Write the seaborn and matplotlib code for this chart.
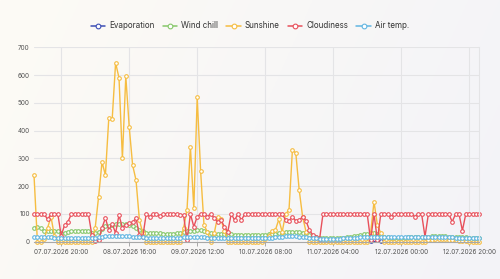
import numpy as np
import pandas as pd
import seaborn as sns
import matplotlib.pyplot as plt

sns.set_theme(style="white")
plt.rcParams['font.family'] = ['Inter', 'DejaVu Sans']

# hourly readings, 07.07.2026 12:00 -> 12.07.2026 23:00
start = '2026-07-07 12:00'
n_hours = 132
nan = np.nan

# evaporation was only reported twice (11.07 around 11:00-14:00)
evaporation = [
    nan, nan, nan, nan, nan, nan, nan, nan, nan, nan, nan, nan, nan, nan, nan, nan, nan, nan, nan, nan, nan, nan,
    nan, nan, nan, nan, nan, nan, nan, nan, nan, nan, nan, nan, nan, nan, nan, nan, nan, nan, nan, nan, nan, nan,
    nan, nan, nan, nan, nan, nan, nan, nan, nan, nan, nan, nan, nan, nan, nan, nan, nan, nan, nan, nan, nan, nan,
    nan, nan, nan, nan, nan, nan, nan, nan, nan, nan, nan, nan, nan, nan, nan, nan, nan, nan, nan, nan, nan, nan,
    nan, nan, nan, nan, nan, nan, nan, nan, nan, nan, nan, 3, nan, nan, 3, nan, nan, nan, nan, nan, nan, nan,
    nan, nan, nan, nan, nan, nan, nan, nan, nan, nan, nan, nan, nan, nan, nan, nan, nan, nan, nan, nan, nan, nan,
]
wind_chill = [
    50, 52, 48, 38, 37, 38, 40, 40,
    32, 30, 35, 38, 39, 40, 40, 39, 38,
    33, 30, 35, 45, 55, 58, 60, 62, 63, 63, 62, 60, 55, 50, 42, 38,
    33, 32, 31, 30, 30, 29, 28, 28, 29, 30, 32, 35,
    38, 40, 40, 42, 41, 40, 35, 30, 28, 28, 27, 27, 26, 26, 25, 25, 25, 25,
    25, 25, 24, 24, 25, 25, 26, 27, 28, 30, 32,
    34, 35, 36, 36, 35, 33, 30, 24, 20, 17, 15,
    13, 12, 12, 12, 13, 14, 15, 17, 18, 20, 22, 24, 26, 28,
    30, 30, 28, 22, 18, 16, 15,
    14, 14, 15, 15, 16, 16,
    17, 18, 18, 18,
    18, 19, 19, 20, 20, 19, 18,
    17, 17, 16, 16,
    16, 15, 15, 14, 14,
]
sunshine = [
    240, 0, 0, 10, 50, 90, 20, 0,
    0, 0, 0, 0, 0, 0, 0, 0, 0, 0,
    50, 162, 287, 240, 445, 442, 644, 590, 300, 596, 414, 276, 222, 78, 31,
    0, 0, 0, 0, 0, 0, 0, 0, 0, 0, 0,
    50, 114, 342, 120, 520, 255, 60, 35, 0, 30, 90, 80, 40,
    0, 0, 0, 0, 0, 0, 0, 0, 0, 0, 0,
    8, 20, 40, 42, 80, 35, 100, 114, 330, 319, 186, 90, 36,
    0, 0, 0, 0, 0, 0, 0, 0, 0, 0, 0, 0, 0, 0, 0, 0, 0, 0,
    30, 144, 60, 31,
    0, 0, 0, 0, 0, 0, 0, 0, 0, 0, 0, 0, 0,
    5, 6, 8, 8, 10, 8, 6, 5, 5, 4, 3, 3, 0,
    0, 0, 0,
]
cloudiness = [
    100, 100, 100, 100, 80, 100, 100, 100,
    22, 60, 72, 100, 100, 100, 100, 100, 100,
    25, 3, 5, 50, 85, 42, 64, 31, 96, 50, 60, 67, 70, 85, 24, 18,
    100, 90, 100, 100, 92, 100, 100, 100, 100, 100, 95, 95,
    5, 100, 54, 90, 100, 100, 90, 100, 85, 72, 78, 54, 36, 100, 78, 100, 78, 100,
    100, 100, 100, 100, 100, 100, 100, 100, 100, 100, 100,
    78, 75, 90, 75, 78, 90, 75, 42, 24, 18, 10,
    100, 100, 100, 100, 100, 100, 100, 100, 100, 100, 100, 100, 100, 100,
    5, 100, 5, 100, 100, 100, 90,
    100, 100, 100, 100, 100, 100,
    90, 100, 100, 18,
    100, 100, 100, 100, 100, 100, 100,
    72, 100, 100, 40,
    100, 100, 100, 100, 100,
]
air_temp = [
    18, 18, 17, 17, 16, 16, 15, 15,
    14, 14, 14, 13, 13, 13, 12, 12, 12,
    13, 14, 16, 18, 20, 21, 22, 22, 22, 21, 20, 19, 18, 17, 16, 16,
    15, 15, 14, 14, 14, 13, 13, 13, 13, 14, 15, 16,
    17, 18, 18, 17, 17, 16, 15, 15, 14, 14, 14, 13, 13, 13, 13, 13, 13, 13,
    13, 13, 13, 13, 13, 14, 14, 15, 16, 17, 18,
    19, 20, 20, 19, 18, 17, 16, 15, 13, 12, 11,
    10, 10, 10, 10, 11, 11, 12, 12, 13, 14, 15, 16, 17, 18,
    18, 17, 16, 16, 16, 16, 16,
    16, 16, 16, 17, 17, 17,
    17, 17, 16, 16,
    16, 16, 17, 17, 17, 16, 16,
    16, 15, 15, 15,
    15, 15, 14, 14, 14,
]

series_names = ['Evaporation', 'Wind chill', 'Sunshine', 'Cloudiness', 'Air temp.']
series_values = [evaporation, wind_chill, sunshine, cloudiness, air_temp]
series_colors = ['#3d4fb5', '#86c76a', '#f6bd41', '#e8505b', '#62b6e2']

tick_times = ['2026-07-07 20:00', '2026-07-08 16:00', '2026-07-09 12:00',
              '2026-07-10 08:00', '2026-07-11 04:00', '2026-07-12 00:00',
              '2026-07-12 20:00']
tick_labels = ['07.07.2026 20:00', '08.07.2026 16:00', '09.07.2026 12:00',
               '10.07.2026 08:00', '11.07.2026 04:00', '12.07.2026 00:00',
               '12.07.2026 20:00']
y_ticks = [0, 100, 200, 300, 400, 500, 600, 700]

times = pd.date_range(start, periods=n_hours, freq='h')

fig = plt.figure(figsize=(5, 2.79), dpi=100)

# soft background gradient
bg = fig.add_axes([0, 0, 1, 1], zorder=-10)
gx, gy = np.meshgrid(np.linspace(0, 1, 200), np.linspace(0, 1, 120))
t = np.clip(0.8 * gx + 0.2 * gy, 0, 1)[..., None]
warm = np.array([253, 251, 245]) / 255
cool = np.array([243, 243, 248]) / 255
bg.imshow(warm * (1 - t) + cool * t, aspect='auto', extent=[0, 1, 0, 1])
bg.axis('off')

ax = fig.add_axes([0.068, 0.1337, 0.8908, 0.6968])
ax.patch.set_alpha(0)

for name, vals, col in zip(series_names, series_values, series_colors):
    sns.lineplot(x=times, y=vals, ax=ax, color=col, linewidth=1.0,
                 marker='o', markersize=2.6, markerfacecolor='white',
                 markeredgecolor=col, markeredgewidth=0.8,
                 label=name, clip_on=False)

ax.set_xlim(times[0], times[-1])
ax.set_ylim(0, 700)
ax.set_yticks(y_ticks)
ax.set_xticks(pd.to_datetime(tick_times))
ax.set_xticklabels(tick_labels)
ax.set_xlabel('')
ax.set_ylabel('')
ax.grid(True, color='#e4e4e6', linewidth=0.8)
ax.set_axisbelow(True)

for s in ['top', 'left']:
    ax.spines[s].set_visible(False)
ax.spines['right'].set_color('#e4e4e6')
ax.spines['right'].set_linewidth(0.8)
ax.spines['bottom'].set_color('#a8a8a8')
ax.spines['bottom'].set_linewidth(0.8)

ax.tick_params(axis='x', length=3, width=0.7, color='#a8a8a8', pad=2.5,
               labelsize=4.6, labelcolor='#555555', bottom=True)
ax.tick_params(axis='y', length=0, pad=3, labelsize=4.6, labelcolor='#555555')

handles, labels = ax.get_legend_handles_labels()
if ax.get_legend():
    ax.get_legend().remove()
leg = fig.legend(handles, labels, loc='center', bbox_to_anchor=(0.5, 0.907),
                 ncol=5, frameon=False, fontsize=5.8, handlelength=1.8,
                 handletextpad=0.5, columnspacing=1.0, borderaxespad=0)
for h in leg.legend_handles:
    h.set_markersize(3.4)
    h.set_linewidth(1.1)
for txt in leg.get_texts():
    txt.set_color('#333333')

fig.savefig('out.png', dpi=100)
